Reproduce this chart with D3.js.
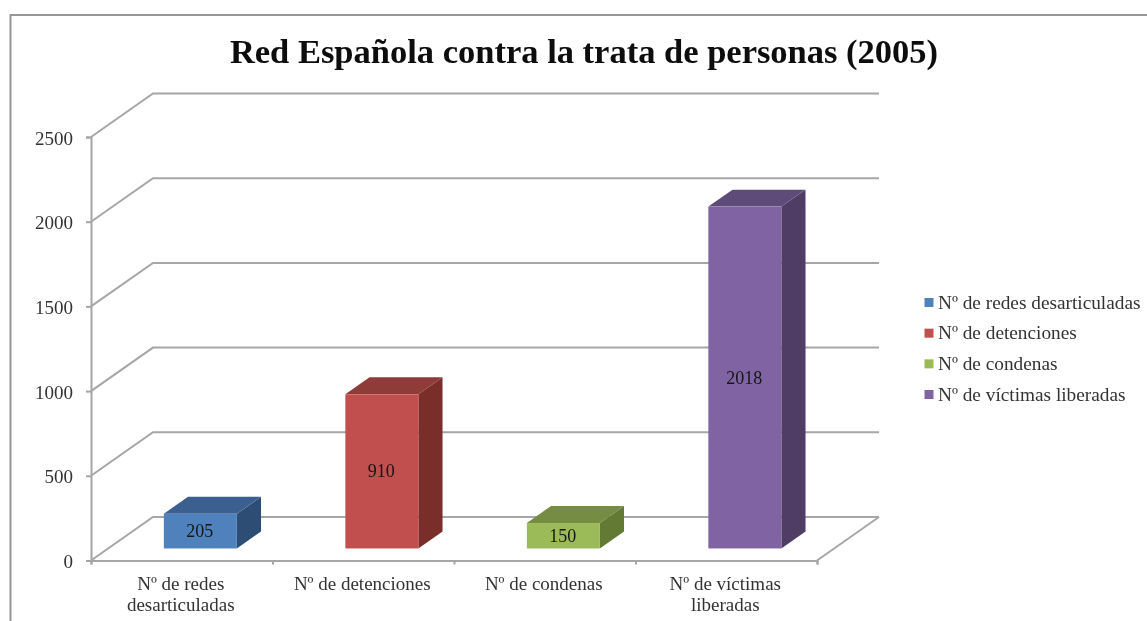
<!DOCTYPE html>
<html><head><meta charset="utf-8">
<script src="https://cdn.jsdelivr.net/npm/d3@7/dist/d3.min.js"></script>
<style>html,body{margin:0;padding:0;background:#fff}svg{display:block}text{font-family:"Liberation Serif",serif}</style>
</head><body><div id="chart"></div>
<script>
const titleText = "Red Española contra la trata de personas (2005)";
const categories = ["Nº de redes desarticuladas","Nº de detenciones","Nº de condenas","Nº de víctimas liberadas"];
const categoryLines = [["Nº de redes","desarticuladas"],["Nº de detenciones"],["Nº de condenas"],["Nº de víctimas","liberadas"]];
const values = [205,910,150,2018];
const yTicks = [0,500,1000,1500,2000,2500];
const faceColors = ["#4f81bd","#c0504d","#9bbb59","#8064a2"];
const topColors = ["#3b618f","#8f3b39","#748d42","#5f4b7a"];
const sideColors = ["#2f4e74","#7a2e2c","#637a36","#4f3d66"];

const W = 1147, H = 621;
const svg = d3.select("#chart").append("svg").attr("width",W).attr("height",H);
svg.append("defs").append("filter").attr("id","soft").attr("filterUnits","userSpaceOnUse")
  .attr("x",0).attr("y",0).attr("width",W).attr("height",H)
  .append("feGaussianBlur").attr("stdDeviation",0.6);
const g = svg.append("g").attr("filter","url(#soft)");

const x = d3.scaleBand().domain(categories).range([91,817]);
const y = d3.scaleLinear().domain([0,2500]).range([560.5,137]);
const depthX = 62, depthY = -43.5;
const zFront = 0.3, zBack = 0.69;
const px = (v,z)=>v+depthX*z, py=(v,z)=>v+depthY*z;
const axisColor = "#a6a6a6";
const lineW = 2;

// chart frame
g.append("path").attr("d","M10.5 621V15H1147").attr("fill","none").attr("stroke","#969696").attr("stroke-width",2);

// title
g.append("text").attr("x",584).attr("y",63).attr("text-anchor","middle")
  .attr("font-weight","bold").attr("font-size",34.5).attr("fill","#0a0a0a").text(titleText);

// walls / gridlines
const x0 = x.range()[0], x1 = x.range()[1];
g.selectAll("path.grid").data(yTicks).join("path").attr("class","grid").attr("fill","none")
  .attr("stroke",axisColor).attr("stroke-width",lineW)
  .attr("d",t=>`M${x0} ${y(t)}L${px(x0,1)} ${py(y(t),1)}H${px(x1,1)}`);
// floor right edge
g.append("path").attr("fill","none").attr("stroke",axisColor).attr("stroke-width",lineW)
  .attr("d",`M${x1} ${y(0)}L${px(x1,1)} ${py(y(0),1)}`);

// axes (library axes)
const yAxis = g.append("g").attr("transform",`translate(${x0},0)`)
  .call(d3.axisLeft(y).tickValues(yTicks).tickSize(5).tickPadding(13).tickFormat(d3.format("d")));
const xTicks = x.domain().map(c=>x(c)).concat([x1]);
const xTickScale = d3.scaleLinear().domain([x0,x1]).range([x0,x1]);
const xAxis = g.append("g").attr("transform",`translate(0,${y(0)})`)
  .call(d3.axisBottom(xTickScale).tickValues(xTicks).tickSize(4).tickFormat(""));
[yAxis,xAxis].forEach(a=>{a.selectAll("path,line").attr("stroke",axisColor).attr("stroke-width",lineW);});
yAxis.selectAll("text").attr("font-size",19).attr("fill","#333").attr("dy","0.37em").style("font-family",'"Liberation Serif",serif');

// category labels
g.selectAll("text.cat").data(categories).join("text").attr("class","cat")
  .attr("text-anchor","middle").attr("font-size",19).attr("fill","#333")
  .attr("x",c=>x(c)+x.bandwidth()/2-1).attr("y",590)
  .selectAll("tspan").data((c,i)=>categoryLines[i]).join("tspan")
  .attr("x",function(){return d3.select(this.parentNode).attr("x");})
  .attr("dy",(d,i)=>i?21:0).text(d=>d);

// bars
const barW = 73;
const bars = g.selectAll("g.bar").data(categories).join("g").attr("class","bar");
const left = c=>x(c)+x.bandwidth()/2+depthX*zFront-barW/2;
const dx = depthX*(zBack-zFront), dy = depthY*(zBack-zFront);
const bot = py(y(0),zFront)+1;
const h = i=>y(0)-y(values[i]);
bars.append("path").attr("fill",(c,i)=>sideColors[i])
  .attr("d",(c,i)=>{const r=left(c)+barW,t=bot-h(i);return `M${r} ${t}l${dx} ${dy}V${bot+dy}L${r} ${bot}Z`;});
bars.append("path").attr("fill",(c,i)=>topColors[i])
  .attr("d",(c,i)=>{const l=left(c),t=bot-h(i);return `M${l} ${t}l${dx} ${dy}h${barW}l${-dx} ${-dy}Z`;});
bars.append("rect").attr("fill",(c,i)=>faceColors[i])
  .attr("x",left).attr("width",barW).attr("y",(c,i)=>bot-h(i)).attr("height",(c,i)=>h(i));
bars.append("text").attr("text-anchor","middle").attr("font-size",18).attr("fill","#151515")
  .attr("x",c=>left(c)+barW/2-0.5).attr("y",(c,i)=>bot-h(i)/2+6).text((c,i)=>values[i]);

// legend
const legendY = d3.scalePoint().domain(categories).range([302.5,394.5]);
const leg = g.selectAll("g.leg").data(categories).join("g").attr("class","leg")
  .attr("transform",c=>`translate(924.5,${legendY(c)})`);
leg.append("rect").attr("x",0).attr("y",-4.5).attr("width",9).attr("height",9).attr("fill",(c,i)=>faceColors[i]);
leg.append("text").attr("x",13.5).attr("y",6).attr("font-size",19.3).attr("fill","#333").text(c=>c);
</script></body></html>
